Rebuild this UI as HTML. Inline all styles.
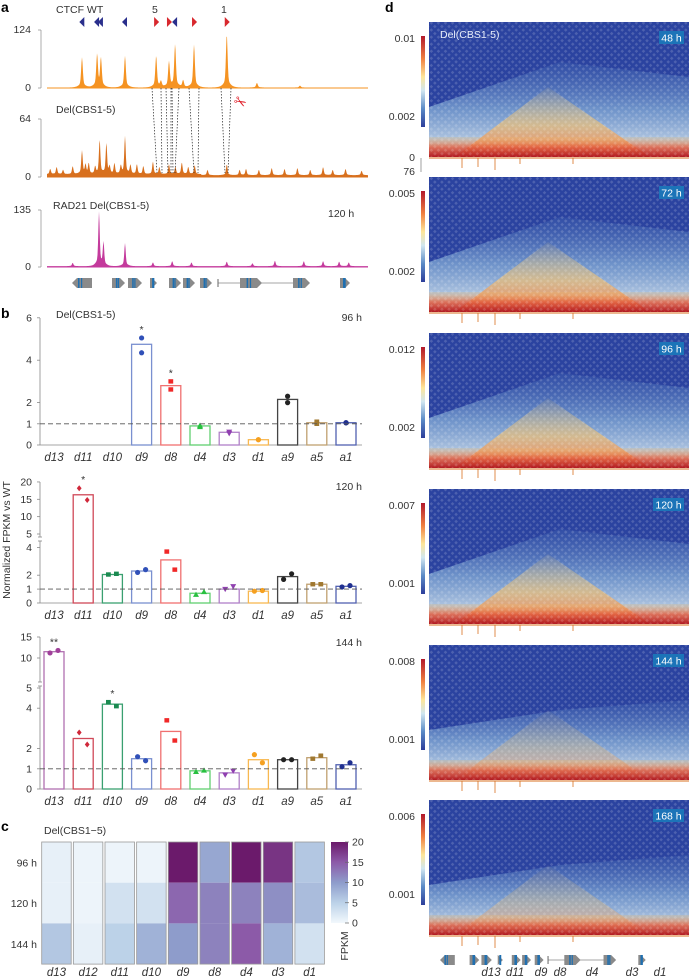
<!DOCTYPE html>
<html><head><meta charset="utf-8">
<style>
html,body{margin:0;padding:0;background:#fff;}
svg{display:block;font-family:"Liberation Sans",sans-serif;}
.t{font-size:10.5px;fill:#333;}
.ti{font-size:11.5px;fill:#333;font-style:italic;}
.bold{font-size:14px;font-weight:bold;fill:#000;}
</style></head>
<body>
<svg id="fig" width="689" height="979" viewBox="0 0 689 979">
<defs>
  <linearGradient id="cbarD" x1="0" y1="0" x2="0" y2="1">
    <stop offset="0" stop-color="#b2182b"/><stop offset="0.25" stop-color="#f08040"/>
    <stop offset="0.45" stop-color="#fde69a"/><stop offset="0.6" stop-color="#d0e6f0"/>
    <stop offset="0.8" stop-color="#5a8ac6"/><stop offset="1" stop-color="#2c3e9a"/>
  </linearGradient>
  <linearGradient id="lightTri" x1="0" y1="0" x2="0" y2="1">
    <stop offset="0" stop-color="#5f8cc8" stop-opacity="0.15"/><stop offset="0.5" stop-color="#8db6dc" stop-opacity="0.7"/>
    <stop offset="1" stop-color="#e4eef2" stop-opacity="0.95"/>
  </linearGradient>
  <linearGradient id="warmTri" x1="0" y1="0" x2="0" y2="1">
    <stop offset="0" stop-color="#f6d98a" stop-opacity="0.1"/><stop offset="0.55" stop-color="#f3c070" stop-opacity="0.75"/>
    <stop offset="1" stop-color="#e8633a" stop-opacity="0.95"/>
  </linearGradient>
  <linearGradient id="band" x1="0" y1="0" x2="0" y2="1">
    <stop offset="0" stop-color="#f4c067" stop-opacity="0.2"/><stop offset="0.5" stop-color="#e25a3a" stop-opacity="0.8"/>
    <stop offset="1" stop-color="#b01a22" stop-opacity="1"/>
  </linearGradient>
  <linearGradient id="cbarC" x1="0" y1="1" x2="0" y2="0">
    <stop offset="0" stop-color="#f2f8fc"/><stop offset="0.25" stop-color="#bcd2e8"/>
    <stop offset="0.5" stop-color="#8e9ccb"/><stop offset="0.75" stop-color="#8c5aa8"/>
    <stop offset="1" stop-color="#6b1a6b"/>
  </linearGradient>
  <pattern id="dots" width="5" height="5" patternUnits="userSpaceOnUse" patternTransform="rotate(45)">
    <rect width="5" height="5" fill="none"/><rect x="0" y="0" width="2.5" height="2.5" fill="#ffffff" opacity="0.16"/>
  </pattern>
</defs>

<text class="bold" x="1" y="12">a</text>
<text class="bold" x="1" y="318">b</text>
<text class="bold" x="1" y="831">c</text>
<text class="bold" x="385" y="12">d</text>

<g>
  <text class="t" x="56" y="13">CTCF  WT</text>
  <text class="t" x="152" y="13">5</text>
  <text class="t" x="221" y="13">1</text>
  <text class="t" x="56" y="113">Del(CBS1-5)</text>
  <text class="t" x="53" y="209">RAD21  Del(CBS1-5)</text>
  <text class="t" x="328" y="217">120 h</text>
  <text x="234" y="107" font-size="15" fill="#e0202a" transform="rotate(30 240 102)">✂</text>
  <g id="aTracks"></g>
</g>

<g id="panelB"></g>
<text class="t" transform="translate(10,540) rotate(-90)" text-anchor="middle">Normalized FPKM vs WT</text>

<g id="panelC">
  <text class="t" x="44" y="834">Del(CBS1−5)</text>
</g>

<g id="panelD"></g>
</svg>

<script>
// Panel a
const ctcfPos = [11, 15.6, 16.8, 24.3, 34, 38, 39.9, 45.8, 56];
const ctcfDir = ['L','L','L','L','R','R','L','R','R'];
const wtPeakPos = [10.9, 15.6, 16.8, 24.3, 34, 35.5, 38, 39.9, 42.4, 45.8, 56, 65.4, 78.8];
const wtPeakH = [65, 70, 62, 68, 68, 12, 55, 92, 15, 92, 115, 10, 4];
const delPeakPos = [1, 3, 5, 8, 10.9, 12, 13, 15, 16.4, 18.5, 19.5, 21, 23, 24.3, 26, 28, 30, 33, 35, 38, 40, 42, 44, 46, 50, 56, 60, 62, 66, 70, 74, 78, 82, 86, 89, 93, 98];
const delPeakH = [6, 8, 5, 9, 26, 10, 12, 8, 38, 34, 8, 12, 9, 42, 10, 11, 9, 14, 8, 11, 8, 13, 8, 10, 6, 12, 6, 7, 6, 8, 7, 8, 6, 9, 6, 7, 5];
const radPeakPos = [8, 16.2, 17.6, 24.3, 33, 39, 45, 56, 64, 71, 80, 86, 91, 94];
const radPeakH = [8, 128, 55, 55, 9, 12, 9, 11, 7, 13, 12, 12, 11, 9];

// Panel b
const cats = ['d13','d11','d10','d9','d8','d4','d3','d1','a9','a5','a1'];
const vals96  = [null,null,null,4.75,2.8,0.9,0.6,0.25,2.15,1.05,1.05];
const ptsA96  = [null,null,null,5.05,3.0,0.85,0.55,0.25,2.3,1.0,1.05];
const ptsB96  = [null,null,null,4.35,2.62,0.92,0.62,0.25,2.0,1.1,1.05];
const vals120 = [null,16.3,2.05,2.3,3.1,0.7,1.0,0.85,1.9,1.35,1.2];
const ptsA120 = [null,18.2,2.05,2.2,3.7,0.6,1.0,0.85,1.7,1.35,1.15];
const ptsB120 = [null,14.8,2.1,2.4,2.4,0.8,1.2,0.9,2.1,1.35,1.25];
const vals144 = [11.5,2.5,4.2,1.5,2.85,0.9,0.8,1.45,1.45,1.55,1.2];
const ptsA144 = [11.2,2.8,4.3,1.6,3.4,0.85,0.7,1.7,1.45,1.5,1.1];
const ptsB144 = [11.8,2.2,4.1,1.4,2.4,0.92,0.9,1.3,1.45,1.65,1.3];
const stars96 = ['','','','*','*','','','','','',''];
const stars120 = ['','*','','','','','','','','',''];
const stars144 = ['**','','*','','','','','','','',''];
const catColor = ['#a0409a','#d0283a','#1a8a50','#3050b8','#f02828','#28c040','#9040b0','#f5a020','#222222','#a07830','#203090'];
const catStroke = ['#b070b0','#d04858','#3aa070','#7a90d0','#f07070','#60d070','#b080c8','#f8b850','#444444','#c0a070','#5060b0'];
const catShape = ['circle','diamond','square','circle','square','triangle','tridown','circle','circle','square','circle'];

// Panel c
const hmCols = ['d13','d12','d11','d10','d9','d8','d4','d3','d1'];
const hmRows = ['96 h','120 h','144 h'];
const fpkm96  = [1, 0.5, 0.5, 0.5, 20, 9, 20, 18, 6];
const fpkm120 = [1, 0.5, 3, 3, 14, 12, 12, 11, 7];
const fpkm144 = [6, 1, 5, 8, 10, 12, 15, 8, 3];
const fpkmTicks = [0, 5, 10, 15, 20];

// Panel d
const dTimes = ['48 h','72 h','96 h','120 h','144 h','168 h'];
const dMax = ['0.01','0.005','0.012','0.007','0.008','0.006'];
const dMin = ['0.002','0.002','0.002','0.001','0.001','0.001'];
const dGenes = ['d13','d11','d9','d8','d4','d3','d1'];

const NS = 'http://www.w3.org/2000/svg';
function mk(tag, attrs, parent) {
  const e = document.createElementNS(NS, tag);
  for (const k in attrs) e.setAttribute(k, attrs[k]);
  parent.appendChild(e);
  return e;
}
function txt(parent, x, y, s, cls, anchor) {
  const e = mk('text', {x: x, y: y, class: cls || 't', 'text-anchor': anchor || 'start'}, parent);
  e.textContent = s;
  return e;
}

// ---------- panel a ----------
const aG = document.getElementById('aTracks');
const ax0 = 47, ax1 = 368;
const xA = u => ax0 + u * (ax1 - ax0) / 100;
function track(y0, yTop, vmax, pos, h, color, base, width, nameStr, maxLabel) {
  const g = mk('g', {}, aG);
  
  
  mk('line', {x1: 41, x2: 41, y1: yTop, y2: y0, stroke: '#999', 'stroke-width': 0.8}, g);
  mk('line', {x1: 38, x2: 41, y1: yTop, y2: yTop, stroke: '#999', 'stroke-width': 0.8}, g);
  mk('line', {x1: 38, x2: 41, y1: y0, y2: y0, stroke: '#999', 'stroke-width': 0.8}, g);
  txt(g, 31, yTop + 3, maxLabel, 't', 'end');
  txt(g, 31, y0 + 3, '0', 't', 'end');
  const sc = (yTop - y0) / vmax;
  let d = 'M' + ax0 + ',' + y0;
  for (let px = ax0; px <= ax1; px += 0.5) {
    const u = (px - ax0) * 100 / (ax1 - ax0);
    let v = base(u);
    for (let i = 0; i < pos.length; i++) {
      const dx = Math.abs(u - pos[i]) / width;
      v += h[i] * (0.75 * Math.exp(-dx * dx) + 0.25 * Math.exp(-dx / 2.5));
    }
    d += ' L' + px + ',' + (y0 + v * sc);
  }
  d += ' L' + ax1 + ',' + y0 + ' Z';
  mk('path', {d: d, fill: color, stroke: 'none'}, g);
  mk('line', {x1: ax0, x2: ax1, y1: y0, y2: y0, stroke: color, 'stroke-width': 1}, g);
}
track(88, 30, 124, wtPeakPos, wtPeakH, '#f59322', u => 1, 0.35, 'ctcf-wt-track', '124');
track(177, 119, 64, delPeakPos, delPeakH, '#d8701e', u => (u < 48 ? 3 : 2), 0.3, 'ctcf-del-track', '64');
track(267, 210, 135, radPeakPos, radPeakH, '#c43a9c', u => 2, 0.3, 'rad21-track', '135');
ctcfPos.forEach((p, i) => {
  const x = xA(p), y = 22;
  const col = ctcfDir[i] === 'L' ? '#2a2f8c' : '#d8282e';
  const pts = ctcfDir[i] === 'L' ? `${x-3},${y} ${x+2},${y-5} ${x+2},${y+5}` : `${x+3},${y} ${x-2},${y-5} ${x-2},${y+5}`;
  const t = mk('polygon', {points: pts, fill: col}, aG);
  
  
});
const conTop = [152,161,166,171,172,179,189,199,221,231];
const conBot = [157,162,168,171,173,175,194,198,225,228];
conTop.forEach((x, i) => {
  const l = mk('line', {x1: x, y1: 88, x2: conBot[i], y2: 173, stroke: '#222', 'stroke-width': 0.7, 'stroke-dasharray': '1.5,1.5'}, aG);
  
  
});
function geneTrack(parent, y, offX, s) {
  const g = mk('g', {}, parent);
  
  
  const genes = [[72,92,'L'],[112,125,'R'],[128,142,'R'],[150,157,'R'],[169,181,'R'],[183,195,'R'],[200,212,'R'],[240,262,'R'],[293,310,'R'],[340,350,'R']];
  mk('line', {x1: offX + 218*s, x2: offX + 305*s, y1: y, y2: y, stroke: '#888', 'stroke-width': 0.8}, g);
  mk('line', {x1: offX + 218*s, x2: offX + 218*s, y1: y-4, y2: y+4, stroke: '#666', 'stroke-width': 1}, g);
  genes.forEach(gn => {
    const a = offX + gn[0]*s, b = offX + gn[1]*s;
    const pts = gn[2] === 'R' ? `${a},${y-5} ${b-5},${y-5} ${b},${y} ${b-5},${y+5} ${a},${y+5}` : `${a+5},${y-5} ${b},${y-5} ${b},${y+5} ${a+5},${y+5} ${a},${y}`;
    mk('polygon', {points: pts, fill: '#8a8a8a'}, g);
    mk('rect', {x: a + (b-a)*0.3, y: y-5, width: 1.5, height: 10, fill: '#1f6fb0'}, g);
    mk('rect', {x: a + (b-a)*0.45, y: y-5, width: 1.2, height: 10, fill: '#1f6fb0'}, g);
  });
}
geneTrack(aG, 283, 0, 1);

// ---------- panel b ----------
const bG = document.getElementById('panelB');
const bx0 = 40, bx1 = 362, bStep = 29.2, bFirst = 54, barW = 20;
const xB = i => bFirst + i * bStep;
function makeScale(y0, lowMax, lowPx, upMin, upMax, upY0, upPx) {
  return v => v <= lowMax ? y0 - v * lowPx : upY0 - (v - upMin) * upPx;
}
function marker(g, shape, x, y, col) {
  let e;
  if (shape === 'circle') e = mk('circle', {cx: x, cy: y, r: 2.6, fill: col}, g);
  else if (shape === 'square') e = mk('rect', {x: x-2.4, y: y-2.2, width: 4.8, height: 4.4, fill: col}, g);
  else if (shape === 'triangle') e = mk('polygon', {points: `${x},${y-3} ${x-3},${y+2.2} ${x+3},${y+2.2}`, fill: col}, g);
  else if (shape === 'tridown') e = mk('polygon', {points: `${x},${y+3} ${x-3},${y-2.2} ${x+3},${y-2.2}`, fill: col}, g);
  else e = mk('polygon', {points: `${x},${y-3} ${x+2.4},${y} ${x},${y+3} ${x-2.4},${y}`, fill: col}, g);
  
  
}
function barPanel(cfg) {
  const g = mk('g', {}, bG);
  
  
  const y = cfg.scale;
  mk('line', {x1: bx0, x2: bx0, y1: cfg.topY, y2: cfg.y0, stroke: '#888', 'stroke-width': 0.8}, g);
  if (cfg.breakY) {
    mk('rect', {x: bx0-3, y: cfg.breakY[0], width: 6, height: cfg.breakY[1]-cfg.breakY[0], fill: '#fff'}, g);
    mk('line', {x1: bx0-2, x2: bx0+2, y1: cfg.breakY[0], y2: cfg.breakY[0], stroke: '#888', 'stroke-width': 0.8}, g);
    mk('line', {x1: bx0-2, x2: bx0+2, y1: cfg.breakY[1], y2: cfg.breakY[1], stroke: '#888', 'stroke-width': 0.8}, g);
  }
  mk('line', {x1: bx0, x2: bx1, y1: cfg.y0, y2: cfg.y0, stroke: '#888', 'stroke-width': 0.8}, g);
  cfg.ticks.forEach(t => {
    const ty = y(t);
    mk('line', {x1: bx0-3, x2: bx0, y1: ty, y2: ty, stroke: '#888', 'stroke-width': 0.8}, g);
    const tl = txt(g, bx0-8, ty+3.5, String(t), 't', 'end');
    
    
  });
  cats.forEach((c, i) => {
    const v = cfg.vals[i];
    if (v !== null) {
      const r = mk('rect', {x: xB(i) - barW/2, y: y(v), width: barW, height: cfg.y0 - y(v), fill: '#fff', stroke: catStroke[i], 'stroke-width': 1.3}, g);
      
      
      marker(g, catShape[i], xB(i) - (cfg.spreadX ? 4 : 0), y(cfg.a[i]), catColor[i]);
      marker(g, catShape[i], xB(i) + (cfg.spreadX ? 4 : 0), y(cfg.b[i]), catColor[i]);
      if (cfg.stars[i]) {
        const top = Math.min(y(cfg.a[i]), y(cfg.b[i]), y(v));
        const s = txt(g, xB(i), top - 5, cfg.stars[i], 't', 'middle');
        
        
      }
    }
    const lb = txt(g, xB(i), cfg.y0 + 16, c, 'ti', 'middle');
    
    
  });
  mk('line', {x1: bx0, x2: bx1, y1: y(1), y2: y(1), stroke: '#555', 'stroke-width': 0.9, 'stroke-dasharray': '5,3'}, g);
  const tl = txt(g, 362, cfg.timeY, cfg.time, 't', 'end');
  
  
}
barPanel({name: 'bar-panel-96h', y0: 445, topY: 318, scale: v => 445 - v * 21.2, ticks: [0,1,2,4,6],
  vals: vals96, a: ptsA96, b: ptsB96, stars: stars96, time: '96 h', timeY: 321, spreadX: false});
txt(bG, 56, 318, 'Del(CBS1-5)', 't', 'start');
barPanel({name: 'bar-panel-120h', y0: 603, topY: 482, scale: makeScale(603, 4.3, 13.9, 5, 20, 534, 3.47), ticks: [0,1,2,4,5,10,15,20],
  vals: vals120, a: ptsA120, b: ptsB120, stars: stars120, time: '120 h', timeY: 490, spreadX: true, breakY: [537, 541]});
barPanel({name: 'bar-panel-144h', y0: 789, topY: 637, scale: makeScale(789, 5.2, 20.2, 5, 15, 679, 4.2), ticks: [0,1,2,4,5,10,15],
  vals: vals144, a: ptsA144, b: ptsB144, stars: stars144, time: '144 h', timeY: 646, spreadX: true, breakY: [682, 686]});

// ---------- panel c ----------
const cG = document.getElementById('panelC');
const cx0 = 41.7, cStep = 31.65, cW = 29.5, cy0 = 842, rowH = 40.7;
const stops = [[0,[242,248,252]],[5,[188,210,232]],[10,[142,156,203]],[15,[140,90,168]],[20,[107,26,107]]];
function cmap(v) {
  for (let i = 1; i < stops.length; i++) {
    if (v <= stops[i][0]) {
      const t = (v - stops[i-1][0]) / (stops[i][0] - stops[i-1][0]);
      const c = stops[i-1][1].map((a, k) => Math.round(a + (stops[i][1][k] - a) * t));
      return `rgb(${c[0]},${c[1]},${c[2]})`;
    }
  }
  return 'rgb(107,26,107)';
}
const fpkmRows = [fpkm96, fpkm120, fpkm144];
hmCols.forEach((c, j) => {
  const x = cx0 + j * cStep;
  fpkmRows.forEach((row, r) => {
    const cell = mk('rect', {x: x, y: cy0 + r*rowH, width: cW, height: rowH, fill: cmap(row[j])}, cG);
    
    
  });
  mk('rect', {x: x, y: cy0, width: cW, height: rowH*3, fill: 'none', stroke: '#999', 'stroke-width': 0.8}, cG);
  const lb = txt(cG, x + cW/2, 976, c, 'ti', 'middle');
  
  
});
hmRows.forEach((r, i) => {
  const lb = txt(cG, 37, cy0 + i*rowH + rowH/2 + 4, r, 't', 'end');
  
  
});
const cb = mk('rect', {x: 331, y: 842, width: 17, height: 81, fill: 'url(#cbarC)'}, cG);


fpkmTicks.forEach(t => {
  const ty = 923 - t / 20 * 81;
  mk('line', {x1: 345, x2: 349, y1: ty, y2: ty, stroke: '#666', 'stroke-width': 0.7}, cG);
  txt(cG, 352, ty + 3.5, String(t), 't', 'start');
});
txt(cG, 0, 0, 'FPKM', 't', 'middle').setAttribute('transform', 'translate(348,946) rotate(-90)');

// ---------- panel d ----------
const dG = document.getElementById('panelD');
const dTops = [22, 177, 333, 489, 645, 800];
const dH = 135, dx0 = 429, dx1 = 689;
dTimes.forEach((tm, i) => {
  const top = dTops[i], bot = top + dH;
  const g = mk('g', {}, dG);
  
  
  mk('rect', {x: dx0, y: top, width: dx1 - dx0, height: dH, fill: '#2b43a0'}, g);
  const apexY = top + 40 + (i >= 4 ? 25 : 0);
  mk('polygon', {points: `${dx0},${top+85} ${560},${apexY} ${dx1},${top+55} ${dx1},${bot} ${dx0},${bot}`, fill: 'url(#lightTri)'}, g);
  mk('polygon', {points: `${455},${bot} ${548},${top+65} ${650},${bot}`, fill: 'url(#warmTri)', opacity: i >= 4 ? 0.45 : 0.9}, g);
  mk('rect', {x: dx0, y: bot - 20, width: dx1 - dx0, height: 20, fill: 'url(#band)'}, g);
  mk('rect', {x: dx0, y: top, width: dx1 - dx0, height: dH, fill: 'url(#dots)'}, g);
  mk('line', {x1: dx0, x2: dx1, y1: bot + 1, y2: bot + 1, stroke: '#d87020', 'stroke-width': 1}, g);
  [[462,10],[478,9],[495,12],[520,6],[573,6]].forEach(p => {
    mk('line', {x1: p[0], x2: p[0], y1: bot + 1, y2: bot + 1 + p[1], stroke: '#d87020', 'stroke-width': 0.8}, g);
  });
  const cbar = mk('rect', {x: 421, y: top + 14, width: 4, height: 91, fill: 'url(#cbarD)'}, g);
  
  
  txt(g, 415, top + 20, dMax[i], 't', 'end');
  txt(g, 415, top + 98, dMin[i], 't', 'end');
  mk('rect', {x: dx1 - (tm.length > 4 ? 36 : 30), y: top + 9, width: (tm.length > 4 ? 31 : 25), height: 13, fill: '#1c74b8'}, g);
  const tl = txt(g, dx1 - (tm.length > 4 ? 20.5 : 17.5), top + 19.5, tm, 't', 'middle');
  tl.setAttribute('style', 'fill:#fff');
  
  
});
const dl = txt(dG, 440, 38, 'Del(CBS1-5)', 't', 'start');
dl.setAttribute('style', 'fill:#e8eefa');
txt(dG, 415, 161, '0', 't', 'end');
txt(dG, 415, 175, '76', 't', 'end');
mk('line', {x1: 421, x2: 421, y1: 158, y2: 172, stroke: '#888', 'stroke-width': 0.8}, dG);
geneTrack(dG, 960, 440 - 72*0.74, 0.74);
const dGeneX = [491, 515, 541, 560, 592, 632, 660];
dGenes.forEach((gname, i) => {
  const lb = txt(dG, dGeneX[i], 976, gname, 'ti', 'middle');
  
  
});
</script>
</body></html>
